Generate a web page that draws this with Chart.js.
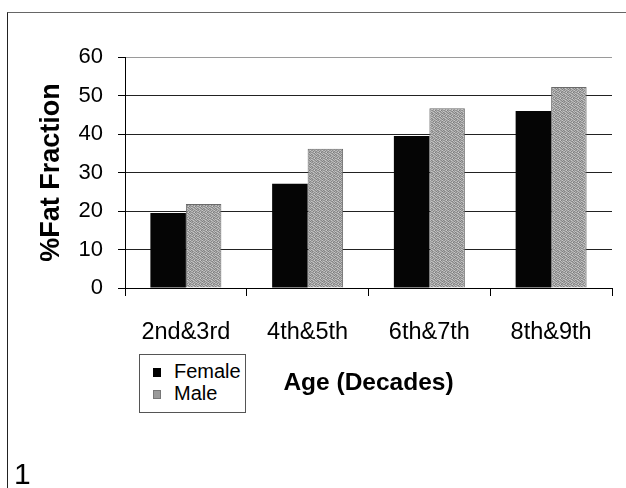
<!DOCTYPE html>
<html>
<head>
<meta charset="utf-8">
<script src="https://cdn.jsdelivr.net/npm/chart.js@4.4.1/dist/chart.umd.min.js"></script>
<style>
    body { margin: 0; background: #fff; font-family: "Liberation Sans", Arial, sans-serif; }
    #wrap { position: relative; width: 626px; height: 488px; overflow: hidden; }
    #frame { position: absolute; left: 7px; top: 12px; right: -2px; bottom: -2px;
             border-top: 1px solid #666; border-left: 1px solid #222; }
    #chart { position: absolute; left: 0; top: 0; }
    #legend { position: absolute; left: 139px; top: 354px; width: 105px; height: 57px;
              border: 1px solid #555; background: #fff; }
    .item { position: absolute; left: 13px; font-size: 20px; line-height: 22px; color: #000; }
    .sw { display: inline-block; width: 8px; height: 9px; margin-right: 13px; vertical-align: 1px; }
    #pagenum { position: absolute; left: 14px; top: 457px; font-size: 30px; color: #000; }
</style>
</head>
<body>
<div id="wrap">
    <div id="frame"></div>
    <canvas id="chart" width="626" height="488"></canvas>
    <div id="legend"></div>
    <div id="pagenum">1</div>
</div>
<script>
let categories = ["2nd&3rd", "4th&5th", "6th&7th", "8th&9th"];
let femaleValues = [19.5, 27.1, 39.5, 46.0];
let maleValues = [21.8, 36.2, 46.7, 52.2];
let yTicks = [0, 10, 20, 30, 40, 50, 60];

// speckled grey fill like the scanned original
function makeSpeckle() {
    let shades = [
        [150, 185, 140, 170, 200, 145],
        [190, 130, 175, 155, 135, 180],
        [140, 170, 205, 125, 165, 150],
        [180, 145, 135, 190, 150, 195],
        [160, 200, 160, 140, 185, 130],
        [135, 155, 185, 170, 125, 175]
    ];
    let c = document.createElement("canvas");
    c.width = 6; c.height = 6;
    let cx = c.getContext("2d");
    shades.forEach((row, y) => row.forEach((v, x) => {
        cx.fillStyle = `rgb(${v},${v},${v})`;
        cx.fillRect(x, y, 1, 1);
    }));
    return cx.createPattern(c, "repeat");
}

let ctx = document.getElementById("chart").getContext("2d");
let maleFill = makeSpeckle();

let chart = new Chart(ctx, {
    type: "bar",
    data: {
        labels: categories,
        datasets: [
            { label: "Female", data: femaleValues, backgroundColor: "#050505",
              borderColor: "#000", borderWidth: 0 },
            { label: "Male", data: maleValues, backgroundColor: maleFill,
              borderColor: "#6a6a6a", borderWidth: 1 }
        ]
    },
    options: {
        responsive: false,
        animation: false,
        devicePixelRatio: 1,
        layout: { padding: { left: 0, right: 14, top: 57, bottom: 89.6 } },
        plugins: { legend: { display: false }, tooltip: { enabled: false } },
        datasets: { bar: { categoryPercentage: 0.583, barPercentage: 1.0 } },
        scales: {
            x: {
                grid: {
                    offset: true,
                    color: c => c.index === categories.length ? "#8a8a8a" : "rgba(0,0,0,0)",
                    tickColor: "#000",
                    tickLength: 8,
                    lineWidth: 1
                },
                border: { color: "#000", width: 1 },
                ticks: {
                    color: "#000",
                    padding: 22,
                    font: { family: "Liberation Sans", size: 23.5 }
                },
                title: {
                    display: true,
                    text: "Age (Decades)",
                    color: "#000",
                    padding: { top: 0, bottom: 0 },
                    font: { family: "Liberation Sans", size: 24.5, weight: "bold" }
                },
                afterFit: s => { s.height = 110.4; }
            },
            y: {
                min: 0,
                max: 60,
                afterBuildTicks: s => { s.ticks = yTicks.map(v => ({ value: v })); },
                grid: {
                    color: c => c.tick && c.tick.value === 60 ? "#9a9a9a" : "#222",
                    tickColor: "#000",
                    tickLength: 7,
                    lineWidth: 1
                },
                border: { color: "#000", width: 1 },
                ticks: {
                    color: "#000",
                    padding: 15,
                    font: { family: "Liberation Sans", size: 22 }
                },
                title: {
                    display: true,
                    text: "%Fat Fraction",
                    color: "#000",
                    padding: { top: 35, bottom: 0 },
                    font: { family: "Liberation Sans", size: 27, weight: "bold" }
                },
                afterFit: s => { s.width = 125; }
            }
        }
    }
});

// legend box built from the chart's datasets
let legend = document.getElementById("legend");
chart.data.datasets.forEach((ds, i) => {
    let item = document.createElement("div");
    item.className = "item";
    item.style.top = (5 + i * 22) + "px";
    let sw = document.createElement("span");
    sw.className = "sw";
    sw.style.background = i === 0 ? "#000" : "#9a9a9a";
    if (i === 1) sw.style.border = "1px solid #777";
    if (i === 1) { sw.style.width = "6px"; sw.style.height = "7px"; }
    item.appendChild(sw);
    item.appendChild(document.createTextNode(ds.label));
    legend.appendChild(item);
});
</script>
</body>
</html>
